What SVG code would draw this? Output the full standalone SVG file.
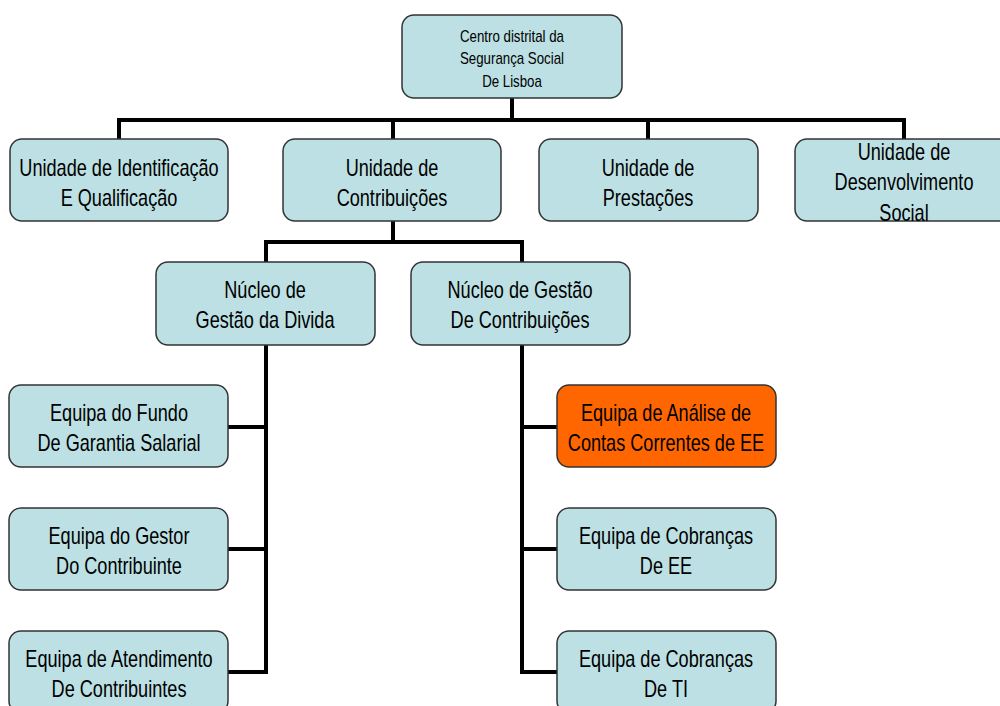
<svg xmlns="http://www.w3.org/2000/svg" width="1000" height="706" viewBox="0 0 1000 706">
<style>
.box{fill:#BCE0E3;stroke:#333;stroke-width:1.5}
.hl{fill:#FF6600;stroke:#333;stroke-width:1.5}
text{font-family:"Liberation Sans",Arial,sans-serif;font-size:24px;fill:#000;text-anchor:middle}
.sm{font-size:16px}
.con{fill:none;stroke:#000;stroke-width:4;stroke-linejoin:miter}
</style>
<defs>
<clipPath id="c4"><rect x="795" y="139" width="219" height="82" rx="12"/></clipPath>
</defs>
<rect width="1000" height="706" fill="#fff"/>
<g id="connectors">
<path class="con" d="M512 98V120M119 139V120H904V139M393 120V139M648 120V139"/>
<path class="con" d="M393 221V242M266 262V242H522V262"/>
<path class="con" d="M266 345V672H228M228 427H266M228 549H266"/>
<path class="con" d="M522 345V672H557M557 427H522M557 549H522"/>
</g>
<g id="n0"><rect class="box" x="402" y="15" width="220" height="83" rx="12"/>
<g transform="translate(512 0) scale(0.83 1)">
<text class="sm" x="0" y="42">Centro distrital da</text>
<text class="sm" x="0" y="64">Segurança Social</text>
<text class="sm" x="0" y="87">De Lisboa</text></g></g>
<g id="n1"><rect class="box" x="10" y="139" width="218" height="82" rx="12"/>
<g transform="translate(119 0) scale(0.755 1)">
<text x="0" y="176">Unidade de Identificação</text>
<text x="0" y="206">E Qualificação</text></g></g>
<g id="n2"><rect class="box" x="283" y="139" width="218" height="82" rx="12"/>
<g transform="translate(392 0) scale(0.755 1)">
<text x="0" y="176">Unidade de</text>
<text x="0" y="206">Contribuições</text></g></g>
<g id="n3"><rect class="box" x="539" y="139" width="219" height="82" rx="12"/>
<g transform="translate(648 0) scale(0.755 1)">
<text x="0" y="176">Unidade de</text>
<text x="0" y="206">Prestações</text></g></g>
<g id="n4"><rect class="box" x="795" y="139" width="219" height="82" rx="12"/>
<g clip-path="url(#c4)"><g transform="translate(904 0) scale(0.755 1)">
<text x="0" y="160">Unidade de</text>
<text x="0" y="190">Desenvolvimento</text>
<text x="0" y="221">Social</text></g></g></g>
<g id="n5"><rect class="box" x="156" y="262" width="219" height="83" rx="12"/>
<g transform="translate(265 0) scale(0.755 1)">
<text x="0" y="298">Núcleo de</text>
<text x="0" y="328">Gestão da Divida</text></g></g>
<g id="n6"><rect class="box" x="411" y="262" width="219" height="83" rx="12"/>
<g transform="translate(520 0) scale(0.755 1)">
<text x="0" y="298">Núcleo de Gestão</text>
<text x="0" y="328">De Contribuições</text></g></g>
<g id="n7"><rect class="box" x="9" y="385" width="219" height="82" rx="12"/>
<g transform="translate(119 0) scale(0.755 1)">
<text x="0" y="421">Equipa do Fundo</text>
<text x="0" y="451">De Garantia Salarial</text></g></g>
<g id="n8"><rect class="box" x="9" y="508" width="219" height="82" rx="12"/>
<g transform="translate(119 0) scale(0.755 1)">
<text x="0" y="544">Equipa do Gestor</text>
<text x="0" y="574">Do Contribuinte</text></g></g>
<g id="n9"><rect class="box" x="9" y="631" width="219" height="82" rx="12"/>
<g transform="translate(119 0) scale(0.755 1)">
<text x="0" y="667">Equipa de Atendimento</text>
<text x="0" y="697">De Contribuintes</text></g></g>
<g id="n10"><rect class="hl" x="557" y="385" width="219" height="82" rx="12"/>
<g transform="translate(666 0) scale(0.755 1)">
<text x="0" y="421">Equipa de Análise de</text>
<text x="0" y="451">Contas Correntes de EE</text></g></g>
<g id="n11"><rect class="box" x="557" y="508" width="219" height="82" rx="12"/>
<g transform="translate(666 0) scale(0.755 1)">
<text x="0" y="544">Equipa de Cobranças</text>
<text x="0" y="574">De EE</text></g></g>
<g id="n12"><rect class="box" x="557" y="631" width="219" height="82" rx="12"/>
<g transform="translate(666 0) scale(0.755 1)">
<text x="0" y="667">Equipa de Cobranças</text>
<text x="0" y="697">De TI</text></g></g>
</svg>
